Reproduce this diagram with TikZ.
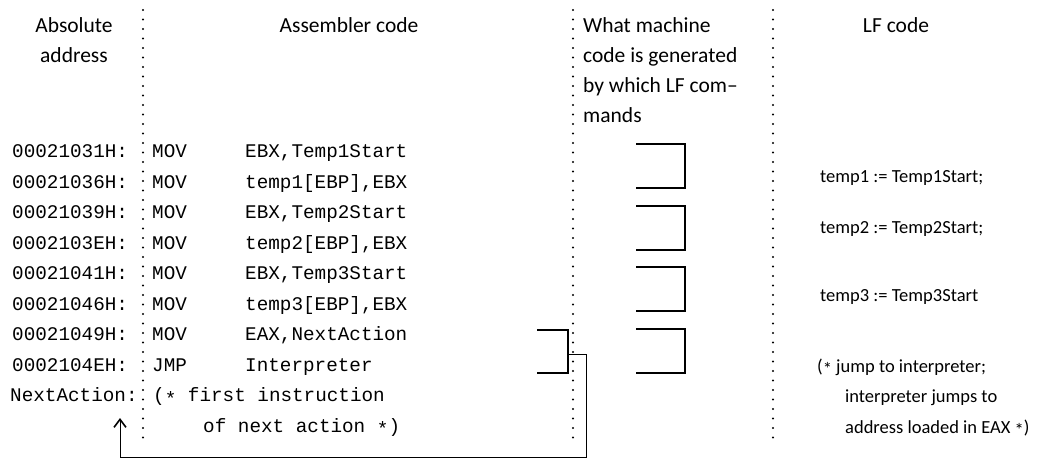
\documentclass[tikz,border=0pt]{standalone}
\usepackage{fontspec}
\setmainfont{Carlito}
\newfontfamily\asmfont{Liberation Mono}
\usepackage{tikz}
\usetikzlibrary{arrows.meta,positioning}
\newcommand{\midast}{\raisebox{-0.35ex}{*}}

\begin{document}
\begin{tikzpicture}[
    x=1pt, y=-1pt,
    head/.style={font=\fontsize{21.5}{30}\selectfont, inner sep=0pt},
    asm/.style={font=\asmfont\fontsize{19.3}{24}\selectfont, anchor=base west, inner sep=0pt},
    lf/.style={font=\fontsize{18.5}{30}\selectfont, anchor=base west, inner sep=0pt},
    sep/.style={line width=2.4pt, line cap=round, dash pattern=on 0pt off 9.5pt},
    bracket/.style={line width=1.8pt},
    arrow/.style={-{Straight Barb[length=8pt, width=12pt, line width=1.6pt]}, line width=1pt}
]
    \useasboundingbox (0,0) rectangle (1052,459);

    % column separators
    \foreach \x in {143,573,773}
        \draw[sep] (\x,10) -- (\x,440);

    % headings
    \node[head, align=center, anchor=north] (hAdr) at (74,17) {Absolute\\address};
    \node[head, anchor=base] (hAsm) at (349,32) {Assembler code};
    \node[head, align=left, anchor=north west] (hGen) at (583,17)
        {What machine\\code is generated\\by which LF com--\\mands};
    \node[head, anchor=base] (hLF) at (896,32) {LF code};

    % assembler listing
    \foreach \i/\adr/\op/\arg in {
        0/00021031H/MOV/{EBX,Temp1Start},
        1/00021036H/MOV/{temp1[EBP],EBX},
        2/00021039H/MOV/{EBX,Temp2Start},
        3/0002103EH/MOV/{temp2[EBP],EBX},
        4/00021041H/MOV/{EBX,Temp3Start},
        5/00021046H/MOV/{temp3[EBP],EBX},
        6/00021049H/MOV/{EAX,NextAction},
        7/0002104EH/JMP/{Interpreter}}
    {
        \node[asm] (a\i) at (12,157.5+30.5*\i) {\adr:};
        \node[asm] (m\i) at (152,157.5+30.5*\i) {\op};
        \node[asm] (o\i) at (245,157.5+30.5*\i) {\arg};
    }
    \node[asm] (nxt) at (10,401.5) {NextAction:};
    \node[asm] (c1) at (153,401.5) {(\midast{} first instruction};
    \node[asm] (c2) at (203,432) {of next action \midast)};

    % machine code per LF command
    \foreach \t in {144,206,267,329}
        \draw[bracket] (636,\t) -| (685,\t+44) -- (636,\t+44);
    \draw[bracket] (537,330) -| (568,373) -- (537,373);

    % LF code
    \node[lf] (lf1) at (820,182) {temp1 := Temp1Start;};
    \node[lf] (lf2) at (820,233) {temp2 := Temp2Start;};
    \node[lf] (lf3) at (820,301) {temp3 := Temp3Start};
    \node[lf] (lf4) at (817,372) {(\midast{} jump to interpreter;};
    \node[lf] (lf5) at (845,402) {interpreter jumps to};
    \node[lf] (lf6) at (845,433) {address loaded in EAX \midast)};

    % jump back to the next action
    \coordinate (jmp) at (568,354);
    \coordinate (tgt) at (120,418);
    \draw[arrow] (jmp) -| (586,457) -| (tgt);
\end{tikzpicture}
\end{document}
